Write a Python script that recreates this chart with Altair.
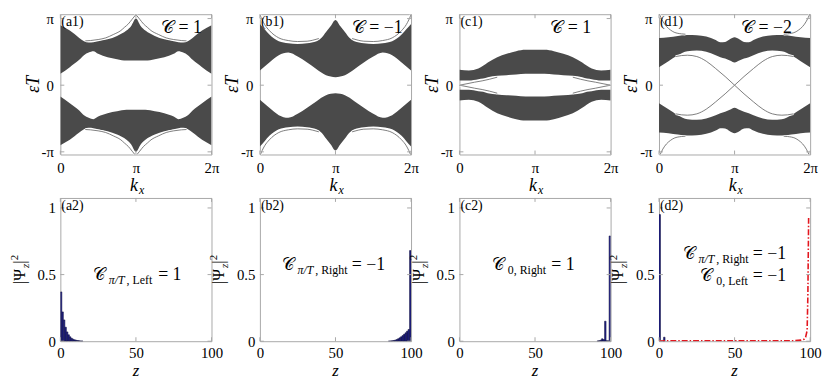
import altair as alt
import pandas as pd

# ---------------- band-structure data (kx and eps*T in units of pi) ----------------
A1_KX = [0, .125, .25, .3125, .375, .4375, .5, .625, .75, .875, .9375, 1,
         1.0625, 1.125, 1.25, 1.375, 1.5, 1.5625, 1.625, 1.6875, 1.75, 1.875, 2]
A1_UP_TOP = [.90, .82, .71, .66, .64, .645, .66, .69, .74, .82, .89, 1.00,
             .89, .82, .74, .69, .66, .645, .64, .66, .71, .82, .90]
A1_UP_BOT = [.17, .27, .38, .45, .49, .51, .47, .42, .39, .37, .37, .37,
             .37, .37, .39, .42, .47, .51, .49, .45, .38, .27, .17]
A1_LO_TOP = [-.17, -.27, -.38, -.45, -.49, -.51, -.47, -.42, -.39, -.37, -.37, -.37,
             -.37, -.37, -.39, -.42, -.47, -.51, -.49, -.45, -.38, -.27, -.17]
A1_LO_BOT = [-.90, -.82, -.71, -.66, -.64, -.645, -.66, -.69, -.74, -.82, -.89, -1.00,
             -.89, -.82, -.74, -.69, -.66, -.645, -.64, -.66, -.71, -.82, -.90]
A1_EDGE_KX = [[.33, .4, .5, .6, .7, .8, .85, .9, .95, 1.0],
              [1.0, 1.05, 1.1, 1.15, 1.2, 1.3, 1.4, 1.5, 1.6, 1.67],
              [.33, .4, .5, .6, .7, .8, .85, .9, .95, 1.0],
              [1.0, 1.05, 1.1, 1.15, 1.2, 1.3, 1.4, 1.5, 1.6, 1.67]]
A1_EDGE_EPS = [[.665, .67, .685, .71, .76, .82, .87, .92, .99, 1.06],
               [1.06, .99, .92, .87, .82, .76, .71, .685, .67, .665],
               [-.665, -.67, -.685, -.71, -.76, -.82, -.87, -.92, -.99, -1.06],
               [-1.06, -.99, -.92, -.87, -.82, -.76, -.71, -.685, -.67, -.665]]

B1_KX = [0, .0625, .125, .25, .375, .5, .625, .75, .8125, .875, .9375, 1,
         1.0625, 1.125, 1.1875, 1.25, 1.375, 1.5, 1.625, 1.75, 1.875, 1.9375, 2]
B1_UP_TOP = [.92, .84, .76, .66, .63, .62, .63, .66, .71, .80, .89, .98,
             .89, .80, .71, .66, .63, .62, .63, .66, .76, .84, .92]
B1_UP_BOT = [.22, .28, .34, .45, .49, .43, .34, .24, .19, .15, .13, .12,
             .13, .15, .19, .24, .34, .43, .49, .45, .34, .28, .22]
B1_LO_TOP = [-.22, -.28, -.34, -.45, -.49, -.43, -.34, -.24, -.19, -.15, -.13, -.12,
             -.13, -.15, -.19, -.24, -.34, -.43, -.49, -.45, -.34, -.28, -.22]
B1_LO_BOT = [-.92, -.84, -.76, -.66, -.63, -.62, -.63, -.66, -.71, -.80, -.89, -.98,
             -.89, -.80, -.71, -.66, -.63, -.62, -.63, -.66, -.76, -.84, -.92]
B1_EDGE_KX = [[0, .03, .0625, .125, .25, .375, .5, .625, .7, .78],
              [1.22, 1.3, 1.375, 1.5, 1.625, 1.75, 1.875, 1.9375, 1.97, 2.0],
              [0, .03, .0625, .125, .25, .375, .5, .625, .7, .78],
              [1.22, 1.3, 1.375, 1.5, 1.625, 1.75, 1.875, 1.9375, 1.97, 2.0]]
B1_EDGE_EPS = [[1.06, .98, .91, .82, .71, .67, .655, .66, .675, .70],
               [.70, .675, .66, .655, .67, .71, .82, .91, .98, 1.06],
               [-1.06, -.98, -.91, -.82, -.71, -.67, -.655, -.66, -.675, -.70],
               [-.70, -.675, -.66, -.655, -.67, -.71, -.82, -.91, -.98, -1.06]]

C1_KX = [0, .125, .25, .3125, .375, .5, .625, .75, .875, 1,
         1.125, 1.25, 1.375, 1.5, 1.625, 1.6875, 1.75, 1.875, 2]
C1_UP_TOP = [.23, .22, .25, .29, .34, .42, .47, .51, .53, .53,
             .53, .51, .47, .42, .34, .29, .25, .22, .23]
C1_UP_BOT = [.07, .07, .09, .10, .12, .14, .15, .16, .17, .17,
             .17, .16, .15, .14, .12, .10, .09, .07, .07]
C1_LO_TOP = [-.07, -.07, -.09, -.10, -.12, -.14, -.15, -.16, -.17, -.17,
             -.17, -.16, -.15, -.14, -.12, -.10, -.09, -.07, -.07]
C1_LO_BOT = [-.23, -.22, -.25, -.29, -.34, -.42, -.47, -.51, -.53, -.53,
             -.53, -.51, -.47, -.42, -.34, -.29, -.25, -.22, -.23]
C1_EDGE_KX = [[0, .1, .2, .3, .4, .5], [0, .1, .2, .3, .4, .5],
              [1.5, 1.6, 1.7, 1.8, 1.9, 2], [1.5, 1.6, 1.7, 1.8, 1.9, 2]]
C1_EDGE_EPS = [[0, .022, .045, .065, .09, .12], [0, -.022, -.045, -.065, -.09, -.12],
               [.12, .09, .065, .045, .022, 0], [-.12, -.09, -.065, -.045, -.022, 0]]

D1_KX = [0, .125, .25, .375, .5, .625, .75, .8125, .875, .9375, 1,
         1.0625, 1.125, 1.1875, 1.25, 1.375, 1.5, 1.625, 1.75, 1.875, 2]
D1_UP_TOP = [.71, .72, .74, .755, .75, .73, .68, .645, .65, .69, .72,
             .69, .65, .645, .68, .73, .75, .755, .74, .72, .71]
D1_UP_BOT = [.27, .36, .45, .51, .52, .50, .45, .42, .40, .37, .34,
             .37, .40, .42, .45, .50, .52, .51, .45, .36, .27]
D1_LO_TOP = [-.27, -.36, -.45, -.51, -.52, -.50, -.45, -.42, -.40, -.37, -.34,
             -.37, -.40, -.42, -.45, -.50, -.52, -.51, -.45, -.36, -.27]
D1_LO_BOT = [-.71, -.72, -.74, -.755, -.75, -.73, -.68, -.645, -.65, -.69, -.72,
             -.69, -.65, -.645, -.68, -.73, -.75, -.755, -.74, -.72, -.71]
D1_S_KX = [.22, .3, .375, .5, .625, .75, .875, 1, 1.125, 1.25, 1.375, 1.5, 1.625, 1.7, 1.78]
D1_EDGE_KX = [D1_S_KX, D1_S_KX,
              [0, .05, .1, .15, .2, .3, .35], [1.65, 1.7, 1.8, 1.85, 1.9, 1.95, 2],
              [0, .05, .1, .15, .2, .3, .35], [1.65, 1.7, 1.8, 1.85, 1.9, 1.95, 2]]
D1_EDGE_EPS = [[.43, .445, .45, .43, .36, .25, .13, 0, -.13, -.25, -.36, -.43, -.45, -.445, -.43],
               [-.43, -.445, -.45, -.43, -.36, -.25, -.13, 0, .13, .25, .36, .43, .45, .445, .43],
               [1.08, .96, .88, .83, .795, .77, .765], [.765, .77, .795, .83, .88, .96, 1.08],
               [-1.08, -.96, -.88, -.83, -.795, -.77, -.765], [-.765, -.77, -.795, -.83, -.88, -.96, -1.08]]

# ---------------- edge-state profiles |Psi_z|^2 ----------------
A2_Z = [1, 2, 3, 4, 5, 6, 7, 8, 9, 10, 11, 12, 13, 14, 15]
A2_P = [0.37, 0.22, 0.16, 0.105, 0.07, 0.048, 0.033, 0.022, 0.015, 0.01, 0.007, 0.005, 0.003, 0.002, 0.0015]
B2_Z = [86, 87, 88, 89, 90, 91, 92, 93, 94, 95, 96, 97, 98, 99, 100]
B2_P = [0.001, 0.002, 0.003, 0.005, 0.008, 0.012, 0.018, 0.025, 0.033, 0.042, 0.052, 0.063, 0.075, 0.088, 0.68]
C2_Z = [92, 93, 94, 95, 96, 97, 98, 99, 100]
C2_P = [0.002, 0.004, 0.008, 0.018, 0.012, 0.15, 0.004, 0.003, 0.79]
D2_Z = [1, 2, 3, 4]
D2_P = [0.95, 0.004, 0.006, 0.03]
D2_LINE_Z = [0, 20, 40, 60, 80, 90, 94, 96, 97, 98, 98.5, 99]
D2_LINE_P = [0.004, 0.003, 0.003, 0.003, 0.003, 0.004, 0.008, 0.015, 0.03, 0.08, 0.35, 0.93]

TOP_XTICKS = [0, 1, 2]
TOP_YTICKS = [-1, 0, 1]
BOT_XTICKS = [0, 50, 100]
BOT_YTICKS = [0, 0.5, 1]

TOP_TAGS = ["(a1)", "(b1)", "(c1)", "(d1)"]
BOT_TAGS = ["(a2)", "(b2)", "(c2)", "(d2)"]
CHERN = ["𝒞 = 1", "𝒞 = −1", "𝒞 = 1", "𝒞 = −2"]

# ---------------- styles ----------------
SERIF = "Liberation Serif"
BAND = "#4a4a4a"
EDGE = "#6f6f6f"
FRAME = "#a8a8a8"
BAR_FILL = "#22228a"
BAR_EDGE = "#0b0b35"
RED = "#e3161e"
W = 153
H1 = 142
H2 = 145
ONE = pd.DataFrame({"o": [0]})


def txt(text, x, y, size, style="normal", align="left", baseline="alphabetic", angle=0):
    kw = dict(text=text, font=SERIF, fontSize=size, fontStyle=style, align=align,
              baseline=baseline, color="black")
    if angle:
        kw["angle"] = angle
    return alt.Chart(ONE).mark_text(**kw).encode(x=alt.value(x), y=alt.value(y))


def axis(values, pad, expr=None, **kw):
    extra = dict(kw)
    if expr is not None:
        extra["labelExpr"] = expr
    return alt.Axis(values=values, title=None, ticks=False, domain=False, grid=False,
                    labelPadding=pad, labelFont=SERIF, labelFontSize=15, labelColor="black",
                    labelOverlap=False, labelBound=False, labelFlush=False, **extra)


def top_panel(i, kx, ut, ub, lt, lb, ekx, eeps, cx):
    X = alt.X("kx:Q", scale=alt.Scale(domain=[0, 2], nice=False, zero=False),
              axis=axis(TOP_XTICKS, 6,
                        "datum.value == 0 ? '0' : (datum.value == 1 ? 'π' : '2π')"))
    Y = alt.Y("eps:Q", scale=alt.Scale(domain=[-1.04, 1.065], nice=False, zero=False),
              axis=axis(TOP_YTICKS, 7,
                        "datum.value < 0 ? '-π' : (datum.value > 0 ? 'π' : '0')"))
    bands = pd.DataFrame({"kx": kx + kx, "eps": ut + lt, "eps2": ub + lb,
                          "band": ["up"] * len(kx) + ["lo"] * len(kx)})
    rows = []
    for s, (ks, es) in enumerate(zip(ekx, eeps)):
        for a, b in zip(ks, es):
            rows.append({"kx": a, "eps": b, "seg": s})
    edges = pd.DataFrame(rows)
    tx = pd.DataFrame({"kx": TOP_XTICKS})
    ty = pd.DataFrame({"eps": TOP_YTICKS})
    layers = [
        alt.Chart(bands).mark_area(color=BAND, interpolate="monotone", clip=True).encode(
            x=X, y=Y, y2="eps2:Q", detail="band:N"),
        alt.Chart(edges).mark_line(color="white", strokeWidth=2.4, interpolate="monotone", clip=True).encode(
            x=X, y=Y, detail="seg:N"),
        alt.Chart(edges).mark_line(color=EDGE, strokeWidth=0.9, interpolate="monotone", clip=True).encode(
            x=X, y=Y, detail="seg:N"),
        alt.Chart(tx).mark_rule(color=FRAME).encode(x=X, y=alt.value(H1), y2=alt.value(H1 - 4)),
        alt.Chart(tx).mark_rule(color=FRAME).encode(x=X, y=alt.value(0), y2=alt.value(4)),
        alt.Chart(ty).mark_rule(color=FRAME).encode(y=Y, x=alt.value(0), x2=alt.value(4)),
        alt.Chart(ty).mark_rule(color=FRAME).encode(y=Y, x=alt.value(W), x2=alt.value(W - 4)),
        txt(TOP_TAGS[i], 1, 8, 14, baseline="middle"),
        txt(CHERN[i], cx, 14, 18, baseline="middle"),
        txt("εT", -27, H1 / 2, 18, style="italic", align="center", baseline="middle", angle=270),
        txt("k", W / 2 - 2, H1 + 32, 18, style="italic", align="center", baseline="middle"),
        txt("x", W / 2 + 3, H1 + 36, 12, style="italic", align="left", baseline="middle"),
    ]
    return alt.layer(*layers).properties(width=W, height=H1)


def bot_panel(i, zs, ps, notes, line_z=None, line_p=None):
    scale_x = alt.Scale(domain=[0, 100], nice=False, zero=False)
    axis_x = axis(BOT_XTICKS, 5, "datum.value == 0 ? '0' : (datum.value == 50 ? '50' : '100')")
    scale_y = alt.Scale(domain=[0, 1.075], nice=False, zero=False)
    axis_y = axis(BOT_YTICKS, 5, None, format=".2~f")
    Y = alt.Y("p:Q", scale=scale_y, axis=axis_y)
    bars = pd.DataFrame({"z": zs, "p": ps})
    tx = pd.DataFrame({"z": BOT_XTICKS})
    ty = pd.DataFrame({"p": BOT_YTICKS})
    XZ = alt.X("z:Q", scale=scale_x, axis=axis_x)
    layers = [
        alt.Chart(bars).transform_calculate(z0="datum.z - 1").mark_rect(
            color=BAR_FILL, stroke=BAR_EDGE, strokeWidth=0.5, clip=True).encode(
            x=alt.X("z0:Q", scale=scale_x, axis=axis_x), x2="z:Q", y=Y, y2=alt.datum(0)),
    ]
    if line_z is not None:
        ld = pd.DataFrame({"z": line_z, "p": line_p})
        layers.append(alt.Chart(ld).mark_line(color=RED, strokeWidth=1.6, strokeDash=[6, 2, 1.5, 2],
                                              clip=True).encode(x=XZ, y=Y))
    layers += [
        alt.Chart(tx).mark_rule(color=FRAME).encode(x=XZ, y=alt.value(H2), y2=alt.value(H2 - 4)),
        alt.Chart(tx).mark_rule(color=FRAME).encode(x=XZ, y=alt.value(0), y2=alt.value(4)),
        alt.Chart(ty).mark_rule(color=FRAME).encode(y=Y, x=alt.value(0), x2=alt.value(4)),
        alt.Chart(ty).mark_rule(color=FRAME).encode(y=Y, x=alt.value(W), x2=alt.value(W - 4)),
        txt(BOT_TAGS[i], 1, 8, 14, baseline="middle"),
        txt("z", W / 2, H2 + 30, 17, style="italic", align="center", baseline="middle"),
        # |Psi_z|^2 (rotated)
        txt("|Ψ", -36, 87, 16, angle=270),
        txt("z", -32, 71, 11, style="italic", angle=270),
        txt("|", -36, 66.5, 16, angle=270),
        txt("2", -43, 63, 11, angle=270),
    ]
    for (t, x, y, size, style) in notes:
        layers.append(txt(t, x, y, size, style=style))
    return alt.layer(*layers).properties(width=W, height=H2)


top = [
    top_panel(0, A1_KX, A1_UP_TOP, A1_UP_BOT, A1_LO_TOP, A1_LO_BOT, A1_EDGE_KX, A1_EDGE_EPS, 102),
    top_panel(1, B1_KX, B1_UP_TOP, B1_UP_BOT, B1_LO_TOP, B1_LO_BOT, B1_EDGE_KX, B1_EDGE_EPS, 93),
    top_panel(2, C1_KX, C1_UP_TOP, C1_UP_BOT, C1_LO_TOP, C1_LO_BOT, C1_EDGE_KX, C1_EDGE_EPS, 92),
    top_panel(3, D1_KX, D1_UP_TOP, D1_UP_BOT, D1_LO_TOP, D1_LO_BOT, D1_EDGE_KX, D1_EDGE_EPS, 83),
]

NOTE_A2 = [("𝒞", 33, 83, 17, "normal"), ("π/T", 49, 87, 12, "italic"),
           (", Left", 67, 87, 12, "normal"), (" = 1", 99, 83, 18, "normal")]
NOTE_B2 = [("𝒞", 22, 73, 17, "normal"), ("π/T", 38, 77, 12, "italic"),
           (", Right", 56, 77, 12, "normal"), (" = −1", 93, 73, 18, "normal")]
NOTE_C2 = [("𝒞", 33, 73, 17, "normal"), ("0, Right", 49, 77, 12, "normal"),
           (" = 1", 93, 73, 18, "normal")]
NOTE_D2 = [("𝒞", 24, 62, 17, "normal"), ("π/T", 40, 66, 12, "italic"),
           (", Right", 58, 66, 12, "normal"), (" = −1", 95, 62, 18, "normal"),
           ("𝒞", 42, 84, 17, "normal"), ("0, Left", 58, 88, 12, "normal"),
           (" = −1", 95, 84, 18, "normal")]

bottom = [
    bot_panel(0, A2_Z, A2_P, NOTE_A2),
    bot_panel(1, B2_Z, B2_P, NOTE_B2),
    bot_panel(2, C2_Z, C2_P, NOTE_C2),
    bot_panel(3, D2_Z, D2_P, NOTE_D2, D2_LINE_Z, D2_LINE_P),
]

chart = alt.concat(*(top + bottom), columns=4, spacing={"row": 44, "column": 49},
                   bounds="flush").properties(
    padding={"left": 0, "top": 0, "right": 0, "bottom": 0}
).configure_view(stroke=FRAME, strokeWidth=1)

chart.save("out.html", embed_options={"renderer": "svg", "actions": False})
